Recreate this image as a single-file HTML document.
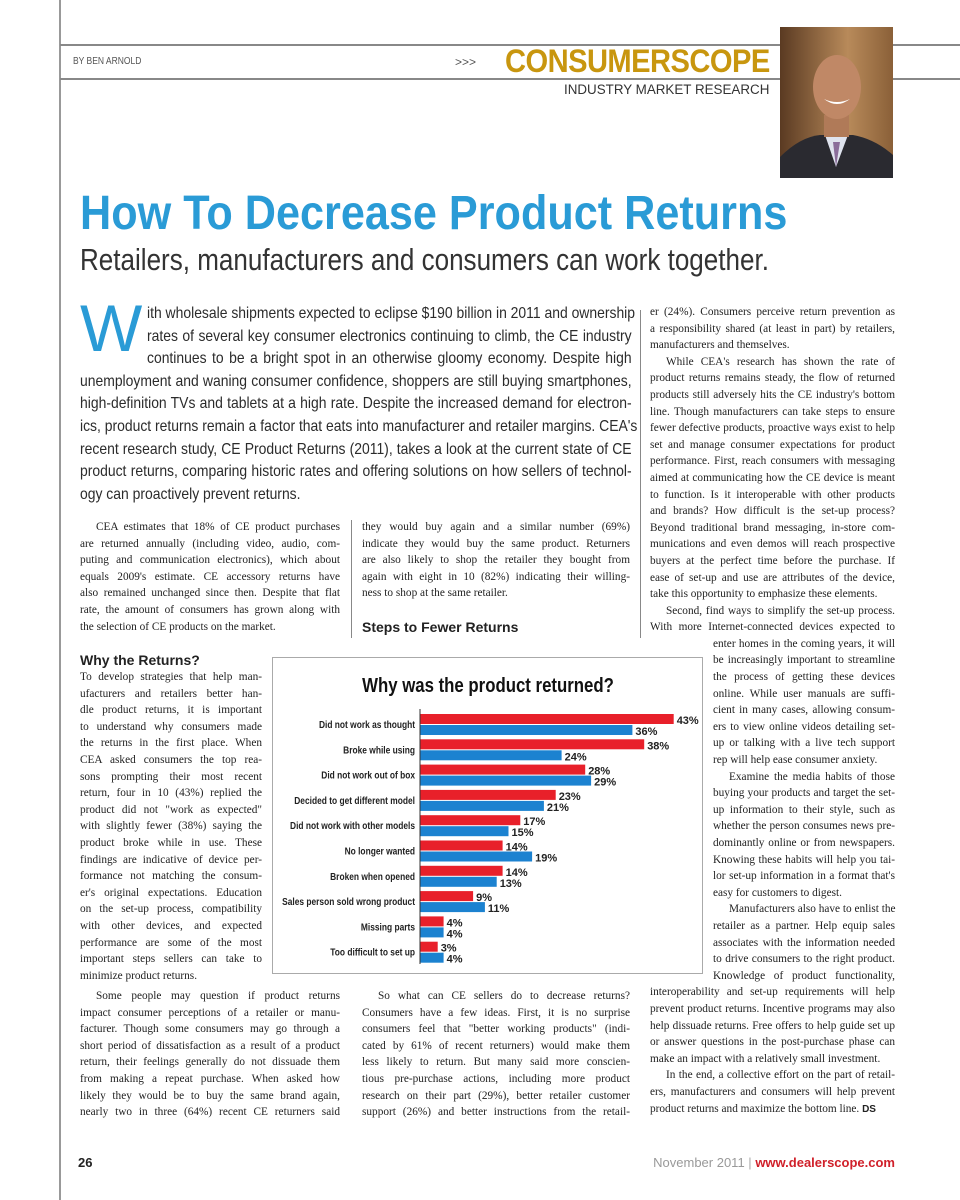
<!DOCTYPE html>
<html><head><meta charset="utf-8">
<style>
body{margin:0;background:#fff;}
#page{position:relative;width:960px;height:1200px;overflow:hidden;background:#fff;font-family:"Liberation Serif",serif;color:#222;}
.abs{position:absolute;}
.col{position:absolute;font-family:"Liberation Serif",serif;font-size:11.3px;line-height:16.6px;color:#222;}
.col div{text-align:justify;text-align-last:justify;white-space:nowrap;overflow:visible;}
.col div.l{text-align-last:left;}
.col div.i{text-indent:16px;}
.intro{position:absolute;left:80px;top:303px;width:634px;font-family:"Liberation Sans",sans-serif;font-size:16px;line-height:22.6px;color:#2b2b2b;transform:scaleX(0.87);transform-origin:0 0;}
.intro div{text-align:justify;text-align-last:justify;white-space:nowrap;}
.h{position:absolute;font-family:"Liberation Sans",sans-serif;font-weight:bold;font-size:14px;color:#222;}
</style></head>
<body>
<div id="page">
  <div class="abs" style="left:59px;top:0;width:1.5px;height:1200px;background:#999;"></div>
  <div class="abs" style="left:60px;top:44px;width:900px;height:1.5px;background:#888;"></div>
  <div class="abs" style="left:60px;top:78px;width:900px;height:1.5px;background:#888;"></div>
  <div class="abs" style="left:73px;top:56px;font-family:'Liberation Sans',sans-serif;font-size:10px;color:#555;transform:scaleX(0.85);transform-origin:0 0;">BY BEN ARNOLD</div>
  <div class="abs" style="left:455px;top:55px;font-family:'Liberation Sans',sans-serif;font-size:12px;color:#555;">&gt;&gt;&gt;</div>
  <div class="abs" style="left:505px;top:43px;font-family:'Liberation Sans',sans-serif;font-weight:bold;font-size:32px;color:#c8960f;letter-spacing:-0.6px;transform:scaleX(0.91);transform-origin:0 0;white-space:nowrap;">CONSUMERSCOPE</div>
  <div class="abs" style="left:564px;top:82px;font-family:'Liberation Sans',sans-serif;font-size:13.4px;color:#333;white-space:nowrap;">INDUSTRY MARKET RESEARCH</div>
  <svg class="abs" style="left:780px;top:27px;" width="113" height="151" viewBox="0 0 113 151">
    <defs><linearGradient id="bg" x1="0" x2="1"><stop offset="0" stop-color="#5a3a22"/><stop offset="0.6" stop-color="#b88a5a"/><stop offset="1" stop-color="#8a6038"/></linearGradient></defs>
    <rect width="113" height="151" fill="url(#bg)"/>
    <path d="M0 151 L0 130 Q20 110 40 108 L73 108 Q95 112 113 128 L113 151Z" fill="#2a2a30"/>
    <path d="M45 108 L56 140 L68 108Z" fill="#dfe3ee"/>
    <path d="M53 115 L56 140 L60 115Z" fill="#8a6d9a"/>
    <rect x="44" y="88" width="25" height="22" fill="#b07a58"/>
    <ellipse cx="57" cy="60" rx="24" ry="32" fill="#c08866"/>
    <path d="M44 72 Q57 82 70 72 Q57 78 44 72Z" fill="#fff"/>
  </svg>
  <div class="abs" style="left:80px;top:186px;font-family:'Liberation Sans',sans-serif;font-weight:bold;font-size:48px;color:#2a9bd6;white-space:nowrap;transform:scaleX(0.9);transform-origin:0 0;">How To Decrease Product Returns</div>
  <div class="abs" style="left:80px;top:242px;font-family:'Liberation Sans',sans-serif;font-size:31px;color:#333;white-space:nowrap;transform:scaleX(0.84);transform-origin:0 0;">Retailers, manufacturers and consumers can work together.</div>

  <div class="abs" style="left:80px;top:290px;font-family:'Liberation Sans',sans-serif;font-size:66px;color:#2a9bd6;">W</div>
  <div class="intro">
    <div style="margin-left:77px">ith wholesale shipments expected to eclipse $190 billion in 2011 and ownership</div>
    <div style="margin-left:77px">rates of several key consumer electronics continuing to climb, the CE industry</div>
    <div style="margin-left:77px">continues to be a bright spot in an otherwise gloomy economy. Despite high</div>
    <div>unemployment and waning consumer confidence, shoppers are still buying smartphones,</div>
    <div>high-definition TVs and tablets at a high rate. Despite the increased demand for electron-</div>
    <div>ics, product returns remain a factor that eats into manufacturer and retailer margins. CEA's</div>
    <div>recent research study, CE Product Returns (2011), takes a look at the current state of CE</div>
    <div>product returns, comparing historic rates and offering solutions on how sellers of technol-</div>
    <div style="text-align-last:left">ogy can proactively prevent returns.</div>
  </div>

  <div class="abs" style="left:351px;top:520px;width:1px;height:118px;background:#888;"></div>
  <div class="abs" style="left:640px;top:310px;width:1px;height:328px;background:#888;"></div>

  <div class="col" style="left:80px;top:519px;width:260px;">
    <div class="i">CEA estimates that 18% of CE product purchases</div>
    <div>are returned annually (including video, audio, com-</div>
    <div>puting and communication electronics), which about</div>
    <div>equals 2009's estimate. CE accessory returns have</div>
    <div>also remained unchanged since then. Despite that flat</div>
    <div>rate, the amount of consumers has grown along with</div>
    <div class="l">the selection of CE products on the market.</div>
  </div>
  <div class="col" style="left:362px;top:519px;width:268px;">
    <div>they would buy again and a similar number (69%)</div>
    <div>indicate they would buy the same product. Returners</div>
    <div>are also likely to shop the retailer they bought from</div>
    <div>again with eight in 10 (82%) indicating their willing-</div>
    <div class="l">ness to shop at the same retailer.</div>
  </div>
  <div class="h" style="left:362px;top:619px;">Steps to Fewer Returns</div>
  <div class="h" style="left:80px;top:652px;">Why the Returns?</div>

  <div class="col" style="left:80px;top:669px;width:182px;">
    <div>To develop strategies that help man-</div>
    <div>ufacturers and retailers better han-</div>
    <div>dle product returns, it is important</div>
    <div>to understand why consumers made</div>
    <div>the returns in the first place. When</div>
    <div>CEA asked consumers the top rea-</div>
    <div>sons prompting their most recent</div>
    <div>return, four in 10 (43%) replied the</div>
    <div>product did not "work as expected"</div>
    <div>with slightly fewer (38%) saying the</div>
    <div>product broke while in use. These</div>
    <div>findings are indicative of device per-</div>
    <div>formance not matching the consum-</div>
    <div>er's original expectations. Education</div>
    <div>on the set-up process, compatibility</div>
    <div>with other devices, and expected</div>
    <div>performance are some of the most</div>
    <div>important steps sellers can take to</div>
    <div class="l">minimize product returns.</div>
  </div>

  <div class="col" style="left:650px;top:304px;width:245px;">
    <div>er (24%). Consumers perceive return prevention as</div>
    <div>a responsibility shared (at least in part) by retailers,</div>
    <div class="l">manufacturers and themselves.</div>
    <div class="i">While CEA's research has shown the rate of</div>
    <div>product returns remains steady, the flow of returned</div>
    <div>products still adversely hits the CE industry's bottom</div>
    <div>line. Though manufacturers can take steps to ensure</div>
    <div>fewer defective products, proactive ways exist to help</div>
    <div>set and manage consumer expectations for product</div>
    <div>performance. First, reach consumers with messaging</div>
    <div>aimed at communicating how the CE device is meant</div>
    <div>to function. Is it interoperable with other products</div>
    <div>and brands? How difficult is the set-up process?</div>
    <div>Beyond traditional brand messaging, in-store com-</div>
    <div>munications and even demos will reach prospective</div>
    <div>buyers at the perfect time before the purchase. If</div>
    <div>ease of set-up and use are attributes of the device,</div>
    <div class="l">take this opportunity to emphasize these elements.</div>
    <div class="i">Second, find ways to simplify the set-up process.</div>
    <div>With more Internet-connected devices expected to</div>
    <div style="margin-left:63px">enter homes in the coming years, it will</div>
    <div style="margin-left:63px">be increasingly important to streamline</div>
    <div style="margin-left:63px">the process of getting these devices</div>
    <div style="margin-left:63px">online. While user manuals are suffi-</div>
    <div style="margin-left:63px">cient in many cases, allowing consum-</div>
    <div style="margin-left:63px">ers to view online videos detailing set-</div>
    <div style="margin-left:63px">up or talking with a live tech support</div>
    <div class="l" style="margin-left:63px">rep will help ease consumer anxiety.</div>
    <div class="i" style="margin-left:63px">Examine the media habits of those</div>
    <div style="margin-left:63px">buying your products and target the set-</div>
    <div style="margin-left:63px">up information to their style, such as</div>
    <div style="margin-left:63px">whether the person consumes news pre-</div>
    <div style="margin-left:63px">dominantly online or from newspapers.</div>
    <div style="margin-left:63px">Knowing these habits will help you tai-</div>
    <div style="margin-left:63px">lor set-up information in a format that's</div>
    <div class="l" style="margin-left:63px">easy for customers to digest.</div>
    <div class="i" style="margin-left:63px">Manufacturers also have to enlist the</div>
    <div style="margin-left:63px">retailer as a partner. Help equip sales</div>
    <div style="margin-left:63px">associates with the information needed</div>
    <div style="margin-left:63px">to drive consumers to the right product.</div>
    <div style="margin-left:63px">Knowledge of product functionality,</div>
    <div>interoperability and set-up requirements will help</div>
    <div>prevent product returns. Incentive programs may also</div>
    <div>help dissuade returns. Free offers to help guide set up</div>
    <div>or answer questions in the post-purchase phase can</div>
    <div class="l">make an impact with a relatively small investment.</div>
    <div class="i">In the end, a collective effort on the part of retail-</div>
    <div>ers, manufacturers and consumers will help prevent</div>
    <div class="l">product returns and maximize the bottom line. <b style="font-family:'Liberation Sans',sans-serif;font-size:10px">DS</b></div>
  </div>

  <div class="col" style="left:80px;top:988px;width:260px;">
    <div class="i">Some people may question if product returns</div>
    <div>impact consumer perceptions of a retailer or manu-</div>
    <div>facturer. Though some consumers may go through a</div>
    <div>short period of dissatisfaction as a result of a product</div>
    <div>return, their feelings generally do not dissuade them</div>
    <div>from making a repeat purchase. When asked how</div>
    <div>likely they would be to buy the same brand again,</div>
    <div>nearly two in three (64%) recent CE returners said</div>
  </div>
  <div class="col" style="left:362px;top:988px;width:268px;">
    <div class="i">So what can CE sellers do to decrease returns?</div>
    <div>Consumers have a few ideas. First, it is no surprise</div>
    <div>consumers feel that "better working products" (indi-</div>
    <div>cated by 61% of recent returners) would make them</div>
    <div>less likely to return. But many said more conscien-</div>
    <div>tious pre-purchase actions, including more product</div>
    <div>research on their part (29%), better retailer customer</div>
    <div>support (26%) and better instructions from the retail-</div>
  </div>

  <div class="abs" style="left:272px;top:657px;width:431px;height:317px;border:1px solid #aaa;box-sizing:border-box;">
    <svg id="chart" width="431" height="317" style="position:absolute;left:0;top:0;"></svg>
  </div>

  <div class="abs" style="left:78px;top:1155px;font-family:'Liberation Sans',sans-serif;font-weight:bold;font-size:13px;color:#222;">26</div>
  <div class="abs" style="right:65px;top:1155px;font-family:'Liberation Sans',sans-serif;font-size:13px;color:#999;white-space:nowrap;">November 2011 <span style="color:#aaa">|</span> <span style="color:#d0202a;font-weight:bold">www.dealerscope.com</span></div>
</div>
<script>
const categories = ["Did not work as thought","Broke while using","Did not work out of box","Decided to get different model","Did not work with other models","No longer wanted","Broken when opened","Sales person sold wrong product","Missing parts","Too difficult to set up"];
const seriesRed = [43,38,28,23,17,14,14,9,4,3];
const seriesBlue = [36,24,29,21,15,19,13,11,4,4];
const chartTitle = "Why was the product returned?";

const svg = document.getElementById('chart');
const NS = 'http://www.w3.org/2000/svg';
const axisX = 147, pxPerPct = 5.9, groupTop = 56, groupStep = 25.3, barH = 10;
function xScale(v){ return axisX + v * pxPerPct; }
function yGroup(i){ return groupTop + i * groupStep; }
function mk(tag, attrs){ const e = document.createElementNS(NS, tag); for (const k in attrs) e.setAttribute(k, attrs[k]); svg.appendChild(e); return e; }
const font = "'Liberation Sans',sans-serif";

const t = mk('text', {x:0, y:0, transform:'translate(215,34) scale(0.84,1)', 'text-anchor':'middle', 'font-family':font, 'font-weight':'bold', 'font-size':'20', fill:'#111'});
t.textContent = chartTitle;



categories.forEach((c, i) => {
  const y = yGroup(i);
  const r = mk('rect', {x:xScale(0), y:y, width:xScale(seriesRed[i]) - xScale(0), height:barH, fill:'#e8202a'});
  
  
  const b = mk('rect', {x:xScale(0), y:y + 11, width:xScale(seriesBlue[i]) - xScale(0), height:barH, fill:'#1c82d0'});
  
  
  const lab = mk('text', {x:0, y:0, transform:'translate(' + (axisX - 5) + ',' + (y + 14) + ') scale(0.8,1)', 'text-anchor':'end', 'font-family':font, 'font-weight':'bold', 'font-size':'10.5', fill:'#222'});
  lab.textContent = c;
  
  
  const rv = mk('text', {x:xScale(seriesRed[i]) + 3, y:y + 10, 'font-family':font, 'font-weight':'bold', 'font-size':'11', fill:'#222'});
  rv.textContent = seriesRed[i] + '%';
  
  
  const bv = mk('text', {x:xScale(seriesBlue[i]) + 3, y:y + 21, 'font-family':font, 'font-weight':'bold', 'font-size':'11', fill:'#222'});
  bv.textContent = seriesBlue[i] + '%';
  
  
});
const ax = mk('line', {x1:axisX, x2:axisX, y1:51, y2:306, stroke:'#333', 'stroke-width':1});


</script>
</body></html>
